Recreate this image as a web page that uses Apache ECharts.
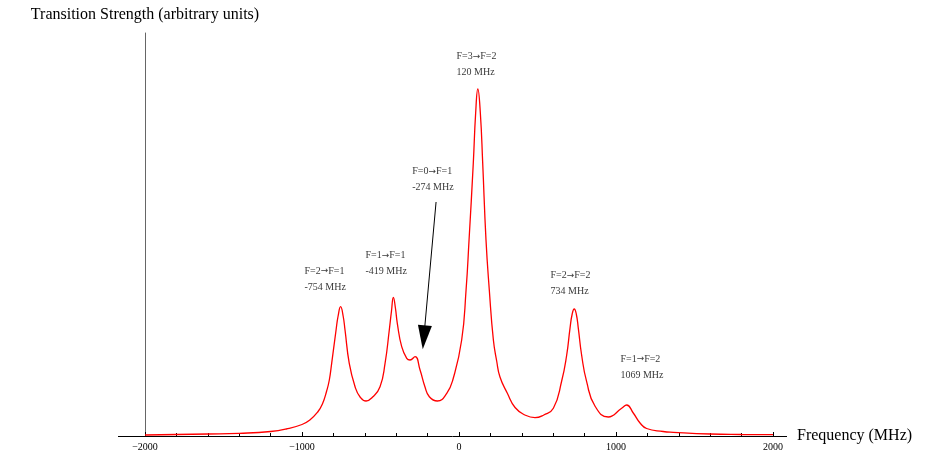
<!DOCTYPE html>
<html>
<head>
<meta charset="utf-8">
<script src="https://cdn.jsdelivr.net/npm/echarts@6/dist/echarts.min.js"></script>
<style>
html, body { margin: 0; padding: 0; background: #fff; }
#main { width: 935px; height: 456px; }
</style>
</head>
<body>
<div id="main"></div>
<script>
// spectrum: frequency (MHz) and strength (arbitrary units)
var freqs = [-2000, -1800, -1600, -1400, -1200, -1100, -1000, -950, -900, -870, -843, -826, -811, -783, -770,
	-754, -738, -726, -699, -662, -630, -592, -550, -503, -471, -444, -430, -418, -405, -393, -365, -333,
	-312, -280, -248, -217, -189, -138, -78, -36, 17, 45, 64, 91, 106, 120, 136, 151, 172, 193, 219,
	240, 261, 308, 357, 420, 484, 540, 601, 654, 686, 707, 721, 734, 747, 760, 781, 813, 866, 951, 1036, 1068,
	1110, 1153, 1195, 1300, 1365, 1600, 1800, 2000];
var strength = [1, 1.5, 2, 2.7, 4.5, 7, 11.5, 16, 24, 32, 45, 56, 72.7, 106, 120,
	129.3, 120, 106, 72.7, 49.3, 39, 35, 39, 49.3, 72.7, 106, 125, 138.7, 128, 112.7, 89.3, 77.7,
	76, 79.3, 66, 49.3, 39.3, 35, 42.7, 58, 96, 146, 196, 272.7, 322.7, 347, 322.7, 272.7, 196, 146, 96,
	75, 59, 42.7, 28.5, 21, 18.3, 21, 27.7, 55, 81, 107.7, 122, 127, 122, 107.7, 81, 54.3, 30, 19, 27.7, 31,
	23, 13, 7.5, 4.5, 3.7, 2, 1.5, 1.3];

// transition labels
var transFrom = ['F=2', 'F=1', 'F=0', 'F=3', 'F=2', 'F=1'];
var transTo = ['F=1', 'F=1', 'F=1', 'F=2', 'F=2', 'F=2'];
var transFreqs = ['-754 MHz', '-419 MHz', '-274 MHz', '120 MHz', '734 MHz', '1069 MHz'];
var labelX = [-987, -599, -301, -19, 580, 1025];
var labelY = [157, 172.3, 256.5, 371.7, 152.3, 69];

// arrow pointing at the F=0 -> F=1 shoulder
var arrowFrom = [-146, 234];
var arrowTo = [-224, 98.7];

var xTicks = [-2000, 2000, 1000];

var curve = [];
for (var i = 0; i < freqs.length; i++) {
	curve.push([freqs[i], strength[i]]);
}
var labels = [];
for (var j = 0; j < transFrom.length; j++) {
	labels.push({ value: [labelX[j], labelY[j]], a: transFrom[j], b: transTo[j], freq: transFreqs[j] });
}

var serif = '"Liberation Serif", "DejaVu Serif", serif';
var chart = echarts.init(document.getElementById('main'), null, { renderer: 'canvas' });

chart.setOption({
	animation: false,
	backgroundColor: '#ffffff',
	grid: { left: 145, right: 162, top: 33, bottom: 20 },
	xAxis: {
		type: 'value',
		min: xTicks[0],
		max: xTicks[1],
		interval: xTicks[2],
		name: 'Frequency (MHz)',
		nameLocation: 'end',
		nameGap: 24,
		nameTextStyle: { fontFamily: serif, fontSize: 16, color: '#000', verticalAlign: 'middle' },
		axisLine: { show: false, onZero: false },
		axisTick: { show: true, inside: true, length: 4, lineStyle: { color: '#000', width: 1 } },
		minorTick: { show: true, splitNumber: 5, length: 3, lineStyle: { color: '#000', width: 1 } },
		splitLine: { show: false },
		axisLabel: {
			margin: 6,
			fontFamily: serif,
			fontSize: 10,
			color: '#000',
			formatter: function (v) { return v < 0 ? '\u2212' + Math.abs(v) : String(v); }
		}
	},
	yAxis: {
		type: 'value',
		min: 0,
		max: 403,
		name: 'Transition Strength (arbitrary units)',
		nameLocation: 'end',
		nameGap: 10,
		nameTextStyle: { fontFamily: serif, fontSize: 16, color: '#000', align: 'center' },
		axisLine: { show: true, onZero: false, lineStyle: { color: '#666', width: 1 } },
		axisTick: { show: false },
		axisLabel: { show: false },
		splitLine: { show: false }
	},
	graphic: [{
		// horizontal axis runs a little past both ends of the range
		type: 'line',
		shape: { x1: 118, y1: 436.5, x2: 787, y2: 436.5 },
		style: { stroke: '#000', lineWidth: 1 },
		z: 1
	}],
	series: [{
		type: 'line',
		data: curve,
		smooth: 0.5,
		showSymbol: false,
		lineStyle: { color: '#ff0000', width: 1.3 },
		z: 3
	}, {
		type: 'scatter',
		data: labels,
		symbolSize: 1,
		itemStyle: { color: 'rgba(0,0,0,0)' },
		silent: true,
		label: {
			show: true,
			position: 'right',
			distance: 0,
			align: 'left',
			fontFamily: serif,
			fontSize: 10,
			lineHeight: 16,
			color: '#000',
			formatter: function (p) {
				return p.data.a + '{arr|\u2192}' + p.data.b + '\n' + p.data.freq;
			},
			rich: {
				arr: { fontFamily: 'DejaVu Sans', fontSize: 9, color: '#000', lineHeight: 16 }
			}
		},
		markLine: {
			silent: true,
			symbol: ['none', 'triangle'],
			symbolSize: [14, 24],
			label: { show: false },
			lineStyle: { color: '#000', width: 1, type: 'solid' },
			itemStyle: { color: '#000' },
			emphasis: { disabled: true },
			data: [[{ coord: arrowFrom }, { coord: arrowTo }]]
		}
	}]
});
</script>
</body>
</html>
